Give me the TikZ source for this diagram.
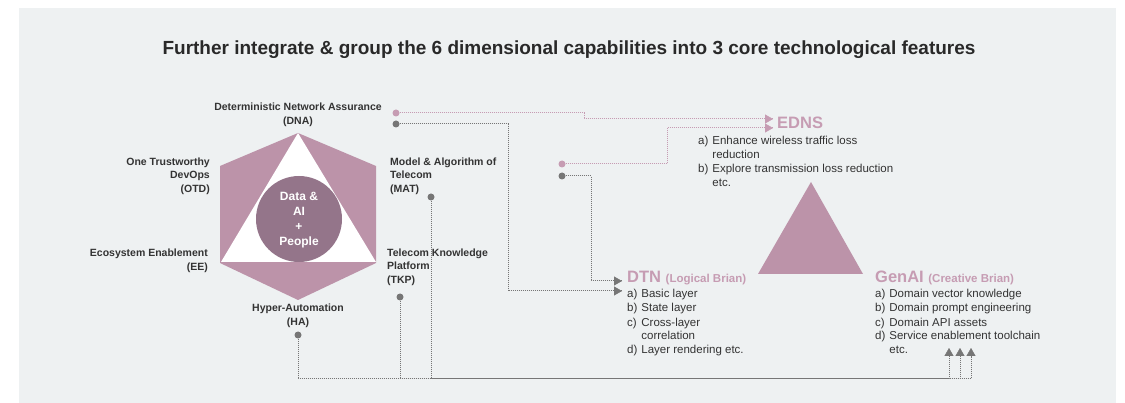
\documentclass[tikz,border=0pt]{standalone}
\usepackage{fontspec}
\setmainfont{Liberation Sans}
\usetikzlibrary{arrows.meta,calc}
\definecolor{bg}{HTML}{EEF1F2}
\definecolor{mauve}{HTML}{BC93A9}
\definecolor{plum}{HTML}{94758A}
\definecolor{pinktxt}{HTML}{C69CB3}
\definecolor{ink}{HTML}{333333}
\definecolor{wire}{HTML}{767676}
\begin{document}
\begin{tikzpicture}[x=1pt,y=-1pt,
  lbl/.style={font=\fontsize{10.5}{13.5}\selectfont\bfseries, text=ink, inner sep=0pt},
  itemlist/.style={font=\fontsize{11.5}{14}\selectfont, text=ink, inner sep=0pt, anchor=north west},
  headtxt/.style={text=pinktxt, inner sep=0pt, anchor=base west},
  greyline/.style={wire, line width=1pt, dash pattern=on 1pt off 1pt},
  pinkline/.style={pinktxt, line width=1pt, dash pattern=on 1pt off 1pt},
  gdot/.style={circle, fill=wire, inner sep=0pt, minimum size=7pt},
  pdot/.style={circle, fill=pinktxt, inner sep=0pt, minimum size=7pt},
  tipg/.style={-{Triangle[length=8pt,width=9pt]}},
]
\useasboundingbox (0,0) rectangle (1125,403);
\fill[white] (0,0) rectangle (1125,403);
\fill[bg] (19,8) rectangle (1116,403);

% title
\node[font=\fontsize{19}{21}\selectfont\bfseries, text=ink!80!black, inner sep=0pt] (title) at (569,50)
  {Further integrate \& group the 6 dimensional capabilities into 3 core technological features};

% hexagon of six capabilities
\fill[mauve] (298,133) -- (376,166) -- (376,263) -- (298,300) -- (220,263) -- (220,166) -- cycle;
\fill[white] (298,133) -- (376,262) -- (221,262) -- cycle;
\node[circle, fill=plum, minimum size=86pt, inner sep=0pt] (core) at (299,219) {};
\node[font=\fontsize{12}{15}\selectfont\bfseries, text=white, align=center, inner sep=0pt] (coretxt) at (299,220)
  {Data \&\\AI\\+\\People};

% capability labels
\node[lbl, align=center] (dna) at (298,115) {Deterministic Network Assurance\\(DNA)};
\node[lbl, align=right, anchor=east] (otd) at (210,176) {One Trustworthy\\DevOps\\(OTD)};
\node[lbl, align=left, anchor=west] (mat) at (390,176) {Model \& Algorithm of\\Telecom\\(MAT)};
\node[lbl, align=right, anchor=east] (ee) at (208,261) {Ecosystem Enablement\\(EE)};
\node[lbl, align=left, anchor=west] (tkp) at (387,267) {Telecom Knowledge\\Platform\\(TKP)};
\node[lbl, align=center] (ha) at (298,316) {Hyper-Automation\\(HA)};

% feature triangle
\fill[mauve] (811,182) -- (863,274) -- (758,274) -- cycle;

% EDNS
\node[headtxt, font=\fontsize{16.5}{18}\selectfont\bfseries] (edns) at (777,129) {EDNS};
\node[itemlist] (ednsL) at (698,135) {\begin{tabular}{@{}l@{\hspace{4pt}}l@{}}
  a) & Enhance wireless traffic loss\\
     & reduction\\
  b) & Explore transmission loss reduction\\
     & etc.\end{tabular}};

% DTN
\node[headtxt] (dtn) at (627,283) {\fontsize{16.5}{18}\selectfont\bfseries DTN\ {\fontsize{11.5}{14}\selectfont(Logical Brian)}};
\node[itemlist] (dtnL) at (627,288) {\begin{tabular}{@{}l@{\hspace{4pt}}l@{}}
  a) & Basic layer\\
  b) & State layer\\
  c) & Cross-layer\\
     & correlation\\
  d) & Layer rendering etc.\end{tabular}};

% GenAI
\node[headtxt] (genai) at (875,283) {\fontsize{16.5}{18}\selectfont\bfseries GenAI\ {\fontsize{11.5}{14}\selectfont(Creative Brian)}};
\node[itemlist] (genaiL) at (875,288) {\begin{tabular}{@{}l@{\hspace{4pt}}l@{}}
  a) & Domain vector knowledge\\
  b) & Domain prompt engineering\\
  c) & Domain API assets\\
  d) & Service enablement toolchain\\
     & etc.\end{tabular}};

% connector start dots
\node[pdot] (dnaP) at (396,113) {};
\node[gdot] (dnaG) at (396,124) {};
\node[pdot] (midP) at (562,164) {};
\node[gdot] (midG) at (562,176) {};
\node[gdot] (matD) at (431,197) {};
\node[gdot] (tkpD) at (400,297) {};
\node[gdot] (haD) at (298,335) {};

% arrow ends
\coordinate (ednsA) at (773,119);
\coordinate (ednsB) at (773,128);
\coordinate (dtnA) at (622,281);
\coordinate (dtnB) at (622,291);
\coordinate (upA) at (949,348);
\coordinate (upB) at (960,348);
\coordinate (upC) at (971,348);

% connectors
\draw[pinkline] (dnaP) -- ++(188,0) |- (ednsA);
\draw[pinkline] (midP) -- ++(105,0) |- (ednsB);
\draw[pinktxt, -{Triangle[length=8pt,width=9pt]}] ($(ednsA)+(-1,0)$) -- (ednsA);
\draw[pinktxt, -{Triangle[length=8pt,width=9pt]}] ($(ednsB)+(-1,0)$) -- (ednsB);

\draw[greyline] (dnaG) -- ++(112,0) |- (dtnB);
\draw[greyline] (midG) -- ++(29,0) |- (dtnA);
\draw[wire, tipg] ($(dtnA)+(-1,0)$) -- (dtnA);
\draw[wire, tipg] ($(dtnB)+(-1,0)$) -- (dtnB);

\draw[greyline] (matD) |- ($(upA)+(0,31)$) -- ($(upA)+(0,8)$);
\draw[greyline] (tkpD) |- ($(upB)+(0,31)$) -- ($(upB)+(0,8)$);
\draw[greyline] (haD) |- ($(upC)+(0,31)$) -- ($(upC)+(0,8)$);
\draw[wire, tipg] ($(upA)+(0,1)$) -- (upA);
\draw[wire, tipg] ($(upB)+(0,1)$) -- (upB);
\draw[wire, tipg] ($(upC)+(0,1)$) -- (upC);
\end{tikzpicture}
\end{document}
